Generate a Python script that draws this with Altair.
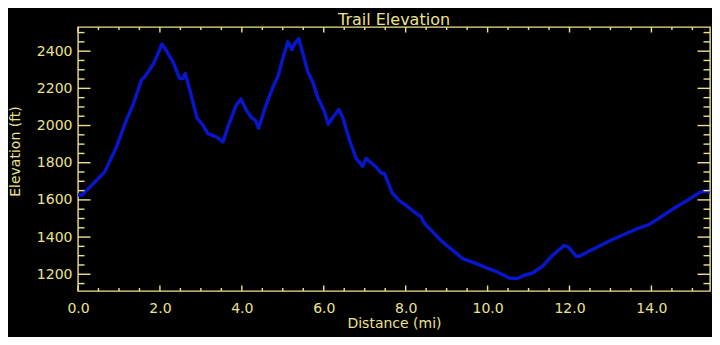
import altair as alt
import pandas as pd

# Trail profile
distance_mi = [0.0, 0.1, 0.33, 0.65, 0.94, 1.18, 1.34, 1.55, 1.63, 1.85, 2.05, 2.16, 2.32, 2.48,
               2.56, 2.62, 2.72, 2.91, 3.05, 3.17, 3.38, 3.54, 3.66, 3.86, 3.98, 4.11, 4.23, 4.33,
               4.41, 4.59, 4.76, 4.88, 5.0, 5.12, 5.23, 5.29, 5.39, 5.49, 5.61, 5.73, 5.85, 6.02,
               6.11, 6.22, 6.37, 6.46, 6.63, 6.79, 6.95, 7.03, 7.28, 7.40, 7.48, 7.68, 7.85, 8.01,
               8.21, 8.38, 8.46, 8.66, 8.9, 9.15, 9.39, 9.72, 9.96, 10.2, 10.53, 10.73, 10.9, 11.1,
               11.34, 11.59, 11.73, 11.87, 11.97, 12.16, 12.24, 12.44, 12.72, 13.01, 13.33, 13.66,
               13.94, 14.23, 14.6, 14.88, 15.2, 15.33, 15.43]
elevation_ft = [1627, 1627, 1677, 1750, 1885, 2029, 2109, 2244, 2262, 2334, 2438, 2402, 2342, 2253,
                2253, 2280, 2199, 2038, 2002, 1957, 1939, 1912, 1993, 2109, 2142, 2083, 2043, 2029,
                1987, 2109, 2208, 2262, 2361, 2450, 2409, 2441, 2468, 2388, 2289, 2235, 2154, 2073,
                2007, 2043, 2086, 2046, 1921, 1823, 1781, 1823, 1777, 1745, 1742, 1634, 1595, 1571,
                1535, 1508, 1473, 1428, 1374, 1329, 1284, 1258, 1236, 1216, 1180, 1177, 1195, 1207,
                1243, 1302, 1329, 1354, 1347, 1297, 1297, 1320, 1351, 1383, 1414, 1446,
                1467, 1508, 1562, 1598, 1643, 1648, 1643]

x_domain = [0, 15.43]
y_domain = [1110, 2530]
x_major = [0, 2, 4, 6, 8, 10, 12, 14]
x_minor = [0.5, 1, 1.5, 2.5, 3, 3.5, 4.5, 5, 5.5, 6.5, 7, 7.5, 8.5, 9, 9.5, 10.5, 11, 11.5,
           12.5, 13, 13.5, 14.5, 15]
y_major = [1200, 1400, 1600, 1800, 2000, 2200, 2400]
y_minor = [1150, 1250, 1300, 1350, 1450, 1500, 1550, 1650, 1700, 1750, 1850, 1900, 1950,
           2050, 2100, 2150, 2250, 2300, 2350, 2450, 2500]

W, H = 632, 264
FG = "#ECE28C"
BLUE = "#0616C8"
FONT = "DejaVu Sans"

xs = alt.Scale(domain=x_domain, nice=False, zero=False)
ys = alt.Scale(domain=y_domain, nice=False, zero=False)

x_axis = alt.Axis(
    values=x_major, format=".1f", domain=False, ticks=False, tickSize=0, grid=False,
    labelFlush=False, labelPadding=10, labelFontSize=14, labelColor=FG, labelFont=FONT,
    title="Distance (mi)", titleColor=FG, titleFont=FONT, titleFontSize=14,
    titleFontWeight="normal", titleBaseline="middle", titleY=32)
y_axis = alt.Axis(
    values=y_major, format="d", domain=False, ticks=False, tickSize=0, grid=False,
    labelFlush=False, labelPadding=6, labelFontSize=14, labelColor=FG, labelFont=FONT,
    title="Elevation (ft)", titleColor=FG, titleFont=FONT, titleFontSize=14,
    titleFontWeight="normal", titleBaseline="middle", titleX=-63, titleY=124)

df = pd.DataFrame({"d": distance_mi, "e": elevation_ft})

line = alt.Chart(df).mark_line(color=BLUE, strokeWidth=3.5, strokeJoin="round").encode(
    x=alt.X("d:Q", scale=xs, axis=x_axis),
    y=alt.Y("e:Q", scale=ys, axis=y_axis),
)

def xticks(vals, length):
    d = pd.DataFrame({"v": vals})
    base = alt.Chart(d).mark_rule(color=FG, strokeWidth=1.4)
    bottom = base.encode(x=alt.X("v:Q", scale=xs, axis=x_axis), y=alt.value(H), y2=alt.value(H - length))
    top = base.encode(x=alt.X("v:Q", scale=xs, axis=x_axis), y=alt.value(0), y2=alt.value(length))
    return [bottom, top]

def yticks(vals, length):
    d = pd.DataFrame({"v": vals})
    base = alt.Chart(d).mark_rule(color=FG, strokeWidth=1.4)
    left = base.encode(y=alt.Y("v:Q", scale=ys, axis=y_axis), x=alt.value(0), x2=alt.value(length))
    right = base.encode(y=alt.Y("v:Q", scale=ys, axis=y_axis), x=alt.value(W), x2=alt.value(W - length))
    return [left, right]

layers = [line] + xticks(x_major, 5.5) + xticks(x_minor, 3) + yticks(y_major, 12.5) + yticks(y_minor, 6.5)

chart = alt.layer(*layers).properties(
    width=W, height=H,
    title=alt.TitleParams("Trail Elevation", color=FG, font=FONT, fontSize=16, frame="group",
                          fontWeight="normal", anchor="middle", offset=-2),
    autosize=alt.AutoSizeParams(type="none"),
    padding={"left": 70, "top": 19, "right": 2, "bottom": 46},
    background="black",
).configure_view(stroke=FG, strokeWidth=1.4)

chart.save("out.html", embed_options={"renderer": "svg", "actions": False})
